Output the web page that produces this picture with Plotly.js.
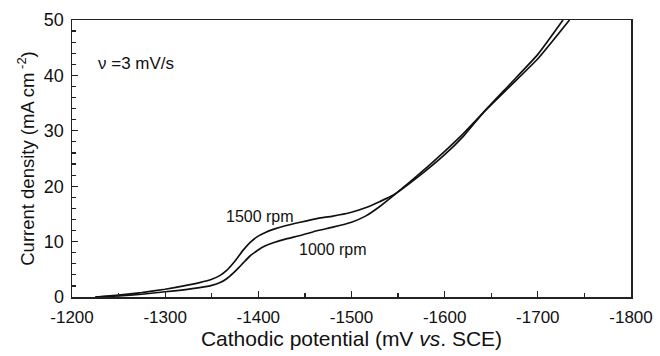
<!DOCTYPE html>
<html>
<head>
<meta charset="utf-8">
<script src="https://cdn.plot.ly/plotly-3.0.1.min.js"></script>
<style>html,body{margin:0;padding:0;background:#fff;}#chart{width:660px;height:356px;}</style>
</head>
<body>
<div id="chart"></div>
<script>
// Cathodic potential (mV vs. SCE)
var potential1000 = [-1225, -1250, -1275, -1300, -1320, -1337, -1350, -1359, -1366, -1373, -1379, -1384, -1391, -1399, -1407, -1416, -1430, -1445, -1464, -1480, -1500, -1515, -1530, -1545, -1570, -1600, -1620, -1641, -1670, -1700, -1734];
var current1000   = [0, 0.2, 0.5, 0.95, 1.3, 1.7, 2.1, 2.6, 3.3, 4.3, 5.3, 6.2, 7.4, 8.4, 9.2, 9.8, 10.5, 11.1, 12.0, 12.6, 13.5, 14.6, 16.3, 18.3, 21.8, 26.3, 29.5, 33.2, 38.0, 43.0, 50];

var potential1500 = [-1225, -1250, -1275, -1300, -1320, -1337, -1350, -1359, -1366, -1373, -1379, -1384, -1391, -1399, -1407, -1416, -1430, -1445, -1464, -1480, -1500, -1515, -1530, -1545, -1570, -1600, -1620, -1641, -1670, -1700, -1727];
var current1500   = [0, 0.35, 0.8, 1.4, 2.0, 2.6, 3.2, 3.9, 4.8, 6.1, 7.4, 8.5, 9.8, 10.9, 11.6, 12.2, 12.9, 13.5, 14.2, 14.6, 15.3, 16.1, 17.2, 18.4, 21.5, 25.7, 29.0, 33.2, 38.4, 43.8, 50];

var seriesNames = ['1000 rpm', '1500 rpm'];
var xTickVals = [-1200, -1300, -1400, -1500, -1600, -1700, -1800];
var xTickText = ['-1200', '-1300', '-1400', '-1500', '-1600', '-1700', '-1800'];
var yTickVals = [0, 10, 20, 30, 40, 50];

var lineStyle = {color: '#111', width: 1.7, shape: 'spline', smoothing: 0.5};

var traces = [
  {x: potential1000, y: current1000, mode: 'lines', name: seriesNames[0], line: lineStyle, hoverinfo: 'x+y'},
  {x: potential1500, y: current1500, mode: 'lines', name: seriesNames[1], line: lineStyle, hoverinfo: 'x+y'}
];

var fontFam = 'Liberation Sans, Arial, sans-serif';

var layout = {
  width: 660, height: 356,
  margin: {l: 72, r: 29, t: 20, b: 59},
  paper_bgcolor: '#fff', plot_bgcolor: '#fff',
  showlegend: false,
  font: {family: fontFam, color: '#111', size: 17},
  xaxis: {
    range: [-1200, -1800],
    tickvals: xTickVals, ticktext: xTickText,
    ticks: 'inside', ticklen: 6, tickwidth: 1.3, tickcolor: '#222',
    ticklabelstandoff: 4,
    minor: {dtick: 50, ticks: 'inside', ticklen: 4, tickwidth: 1.2, tickcolor: '#222', showgrid: false},
    showline: true, linecolor: '#222', linewidth: 1.5, mirror: true,
    showgrid: false, zeroline: false,
    tickfont: {size: 17, family: fontFam, color: '#111'},
    title: {text: 'Cathodic potential (mV <i>vs</i>. SCE)', font: {size: 21, family: fontFam, color: '#111'}, standoff: 1}
  },
  yaxis: {
    range: [0, 50],
    tickvals: yTickVals,
    ticks: 'inside', ticklen: 6, tickwidth: 1.3, tickcolor: '#222',
    ticklabelstandoff: 3,
    minor: {dtick: 2, ticks: 'inside', ticklen: 4, tickwidth: 1.2, tickcolor: '#222', showgrid: false},
    showline: true, linecolor: '#222', linewidth: 1.5, mirror: true,
    showgrid: false, zeroline: false,
    tickfont: {size: 18, family: fontFam, color: '#111'},
    title: {text: 'Current density (mA cm<sup> -2</sup>)', font: {size: 18.5, family: fontFam, color: '#111'}, standoff: 4}
  },
  annotations: [
    {x: -1226, y: 42.2, xref: 'x', yref: 'y', text: '\u03bd =3 mV/s', showarrow: false, xanchor: 'left', yanchor: 'middle', font: {size: 17, family: fontFam, color: '#111'}},
    {x: -1402, y: 14.6, xref: 'x', yref: 'y', text: '1500 rpm', showarrow: false, xanchor: 'center', yanchor: 'middle', font: {size: 16, family: fontFam, color: '#111'}},
    {x: -1480, y: 8.5, xref: 'x', yref: 'y', text: '1000 rpm', showarrow: false, xanchor: 'center', yanchor: 'middle', font: {size: 16, family: fontFam, color: '#111'}}
  ]
};

Plotly.newPlot('chart', traces, layout, {displayModeBar: false, staticPlot: true});
</script>
</body>
</html>
